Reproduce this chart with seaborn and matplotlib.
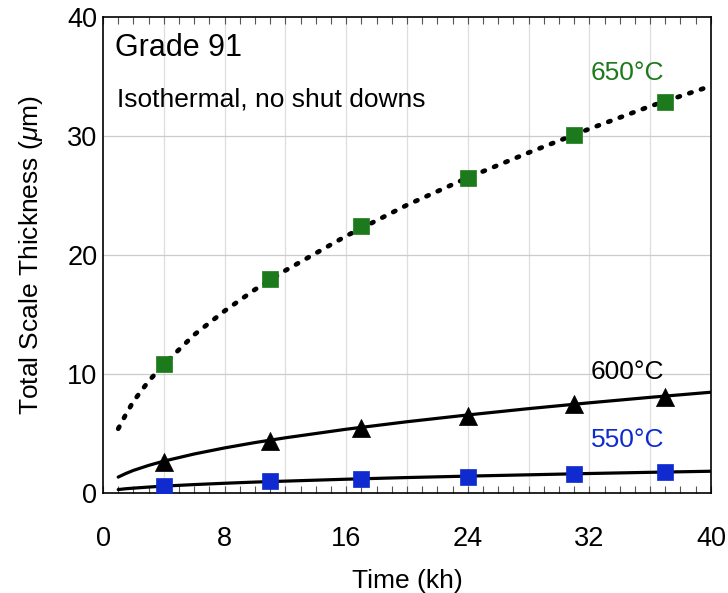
import numpy as np
import pandas as pd
import matplotlib
matplotlib.use("Agg")
import matplotlib.pyplot as plt
import seaborn as sns
from matplotlib.ticker import MultipleLocator

# measured points
t_meas = [4, 11, 17, 24, 31, 37]
y650 = [10.8, 18.0, 22.4, 26.5, 30.1, 32.9]
y600 = [2.6, 4.4, 5.5, 6.5, 7.5, 8.1]
y550 = [0.6, 1.0, 1.2, 1.35, 1.6, 1.75]

# fitted curves
t_fit = [1, 1.5, 2, 3, 4, 6, 8, 10, 12, 16, 20, 24, 28, 32, 36, 40]
f650 = [5.4, 6.6, 7.7, 9.4, 10.8, 13.3, 15.3, 17.1, 18.7, 21.6, 24.2, 26.5, 28.6, 30.6, 32.5, 34.2]
f600 = [1.34, 1.64, 1.9, 2.32, 2.68, 3.28, 3.79, 4.24, 4.64, 5.36, 5.99, 6.56, 7.09, 7.58, 8.04, 8.47]
f550 = [0.29, 0.36, 0.41, 0.5, 0.58, 0.71, 0.82, 0.92, 1.0, 1.16, 1.3, 1.42, 1.53, 1.64, 1.74, 1.83]

x_ticks = [0, 8, 16, 24, 32, 40]
y_ticks = [0, 10, 20, 30, 40]

sns.set_style("white")
plt.rcParams['font.family'] = ['Liberation Sans', 'DejaVu Sans']
plt.rcParams['mathtext.fontset'] = 'custom'
plt.rcParams['mathtext.it'] = 'Liberation Sans:italic'
plt.rcParams['mathtext.rm'] = 'Liberation Sans'
plt.rcParams['text.color'] = 'black'
plt.rcParams['axes.labelcolor'] = 'black'
plt.rcParams['xtick.color'] = 'black'
plt.rcParams['ytick.color'] = 'black'

fig = plt.figure(figsize=(7.28, 5.93), dpi=100)
ax = fig.add_axes([0.1415, 0.1686, 0.835, 0.8027])

GREEN = '#1c7a1c'
BLUE = '#0f2bd0'

# grid
for xv in np.arange(4, 40, 4):
    ax.axvline(xv, color='#dedede', lw=0.9, zorder=0)
for yv in [10, 20, 30]:
    ax.axhline(yv, color='#cccccc', lw=0.9, zorder=0)

fit = pd.DataFrame({'t': t_fit, 'f650': f650, 'f600': f600, 'f550': f550})
meas = pd.DataFrame({'t': t_meas, 'y650': y650, 'y600': y600, 'y550': y550})

sns.lineplot(data=fit, x='t', y='f650', ax=ax, color='black', lw=3.4, zorder=2)
ax.lines[-1].set_linestyle((0, (0.5, 2.1)))
ax.lines[-1].set_dash_capstyle('round')
sns.lineplot(data=fit, x='t', y='f600', ax=ax, color='black', lw=2.3, zorder=2)
sns.lineplot(data=fit, x='t', y='f550', ax=ax, color='black', lw=2.3, zorder=2)

sns.scatterplot(data=meas, x='t', y='y650', ax=ax, marker='s', s=130, color=GREEN,
                edgecolor=GREEN, linewidth=0.5, zorder=3)
sns.scatterplot(data=meas, x='t', y='y600', ax=ax, marker='^', s=170, color='black',
                edgecolor='black', linewidth=0.5, zorder=3)
sns.scatterplot(data=meas, x='t', y='y550', ax=ax, marker='s', s=130, color=BLUE,
                edgecolor=BLUE, linewidth=0.5, zorder=3)

ax.set_xlim(0, 40)
ax.set_ylim(0, 40)
ax.set_xticks(x_ticks)
ax.set_yticks(y_ticks)
ax.xaxis.set_minor_locator(MultipleLocator(1))
ax.tick_params(axis='both', which='major', labelsize=19.5)
ax.tick_params(axis='y', which='major', length=0, pad=4)
ax.tick_params(axis='x', which='minor', direction='in', length=5, width=0.8,
               top=True, bottom=True, color='#555555')
ax.tick_params(axis='x', which='major', direction='in', length=5, width=0.8,
               top=True, bottom=True, color='#555555', pad=24)
ax.set_xlabel('Time (kh)', fontsize=19, labelpad=12)
ax.set_ylabel(r'Total Scale Thickness ($\mu$m)', fontsize=19, labelpad=16)

for sp in ax.spines.values():
    sp.set_visible(True)
    sp.set_color('black')
    sp.set_linewidth(1.2)

ax.text(0.8, 37.4, 'Grade 91', fontsize=22, va='center', ha='left')
ax.text(0.9, 33.1, 'Isothermal, no shut downs', fontsize=19, va='center', ha='left')
ax.text(34.5, 35.3, '650°C', fontsize=19, color=GREEN, ha='center', va='center')
ax.text(34.5, 10.2, '600°C', fontsize=19, color='black', ha='center', va='center')
ax.text(34.5, 4.45, '550°C', fontsize=19, color=BLUE, ha='center', va='center')

fig.savefig('out.png', dpi=100)
